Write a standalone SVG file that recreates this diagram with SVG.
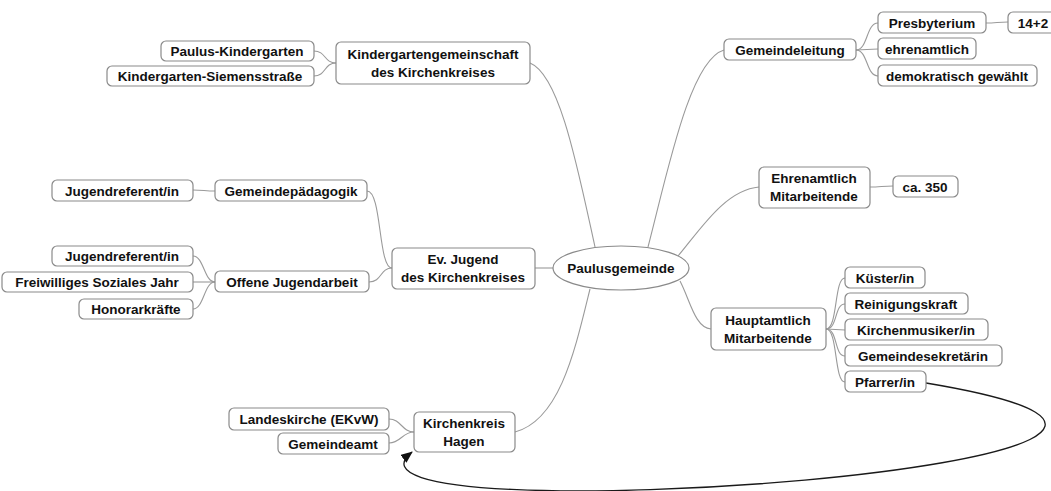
<svg xmlns="http://www.w3.org/2000/svg" width="1051" height="491" viewBox="0 0 1051 491">
<style>
.box{fill:#fff;stroke:#8a8a8a;stroke-width:1.2}
.t{font-family:"Liberation Sans",Arial,sans-serif;font-weight:bold;font-size:13.5px;fill:#111;text-anchor:middle}
.c{fill:none;stroke:#9a9a9a;stroke-width:1.1}
.link{fill:none;stroke:#1a1a1a;stroke-width:1.3}
</style>
<defs>
<marker id="ah" viewBox="0 0 12 10" refX="11" refY="5" markerWidth="12" markerHeight="10" markerUnits="userSpaceOnUse" orient="auto">
<path d="M0,0 L12,5 L0,10 Z" fill="#111"/>
</marker>
</defs>
<rect width="1051" height="491" fill="#fff"/>
<g id="connectors">
<path class="c" d="M595,247 C578,170 560,75 530,63"/>
<path class="c" d="M648,247 C668,170 690,60 724,50"/>
<path class="c" d="M678,256 C700,230 725,190 759,187"/>
<path class="c" d="M680,281 C690,300 695,328 711,329"/>
<path class="c" d="M554,268 L535,268"/>
<path class="c" d="M590,289 C575,350 560,420 515,432"/>
<path class="c" d="M314,51 C326,51 324,63 336,63"/>
<path class="c" d="M314,76 C326,76 324,63 336,63"/>
<path class="c" d="M856,50 C868,50 866,23 878,23"/>
<path class="c" d="M856,50 L878,49"/>
<path class="c" d="M856,50 C868,50 866,76 878,76"/>
<path class="c" d="M986,23 C996,23 998,22 1008,22"/>
<path class="c" d="M870,187 C880,187 883,186 893,186"/>
<path class="c" d="M826,329 C838,329 834,278 845,278"/>
<path class="c" d="M826,329 C838,329 834,304 845,304"/>
<path class="c" d="M826,329 L845,330"/>
<path class="c" d="M826,329 C838,329 834,356 845,356"/>
<path class="c" d="M826,329 C838,329 834,382 845,382"/>
<path class="c" d="M392,268 C378,268 382,191 367,191"/>
<path class="c" d="M392,268 C380,268 382,282 369,282"/>
<path class="c" d="M215,191 C205,191 203,190 193,190"/>
<path class="c" d="M215,282 C204,282 204,256 193,256"/>
<path class="c" d="M215,282 L193,282"/>
<path class="c" d="M215,282 C204,282 204,309 193,309"/>
<path class="c" d="M414,432 C402,432 401,419 389,419"/>
<path class="c" d="M414,432 C402,432 401,443 389,443"/>
<path class="link" d="M926,383 C1400,462 300,540 412,452" marker-end="url(#ah)"/>
</g>
<g id="root">
<ellipse cx="621" cy="268" rx="68" ry="22" fill="#fff" stroke="#8a8a8a" stroke-width="1.2"/>
<text class="t" x="621" y="273">Paulusgemeinde</text>
</g>
<g id="kg">
<rect class="box" x="336" y="42" width="194" height="42" rx="5"/>
<text class="t" x="433" y="59">Kindergartengemeinschaft</text>
<text class="t" x="433" y="77">des Kirchenkreises</text>
</g>
<g id="kg1">
<rect class="box" x="161" y="41" width="153" height="20" rx="5"/>
<text class="t" x="237" y="56">Paulus-Kindergarten</text>
</g>
<g id="kg2">
<rect class="box" x="107" y="66" width="207" height="20" rx="5"/>
<text class="t" x="210" y="81">Kindergarten-Siemensstraße</text>
</g>
<g id="gl">
<rect class="box" x="724" y="39" width="132" height="21" rx="5"/>
<text class="t" x="790" y="55">Gemeindeleitung</text>
</g>
<g id="presb">
<rect class="box" x="878" y="12" width="108" height="21" rx="5"/>
<text class="t" x="932" y="28">Presbyterium</text>
</g>
<g id="n142">
<rect class="box" x="1008" y="12" width="60" height="21" rx="5"/>
<text class="t" x="1033" y="28">14+2</text>
</g>
<g id="ehren">
<rect class="box" x="878" y="38" width="98" height="21" rx="5"/>
<text class="t" x="927" y="54">ehrenamtlich</text>
</g>
<g id="demo">
<rect class="box" x="878" y="65" width="159" height="21" rx="5"/>
<text class="t" x="957" y="81">demokratisch gewählt</text>
</g>
<g id="em">
<rect class="box" x="759" y="167" width="111" height="41" rx="5"/>
<text class="t" x="814" y="183">Ehrenamtlich</text>
<text class="t" x="814" y="201">Mitarbeitende</text>
</g>
<g id="ca350">
<rect class="box" x="893" y="176" width="65" height="21" rx="5"/>
<text class="t" x="925" y="192">ca. 350</text>
</g>
<g id="hm">
<rect class="box" x="711" y="308" width="115" height="42" rx="5"/>
<text class="t" x="768" y="325">Hauptamtlich</text>
<text class="t" x="768" y="343">Mitarbeitende</text>
</g>
<g id="kuester">
<rect class="box" x="845" y="267" width="80" height="21" rx="5"/>
<text class="t" x="885" y="283">Küster/in</text>
</g>
<g id="rein">
<rect class="box" x="845" y="293" width="123" height="21" rx="5"/>
<text class="t" x="906" y="309">Reinigungskraft</text>
</g>
<g id="kmus">
<rect class="box" x="845" y="319" width="143" height="21" rx="5"/>
<text class="t" x="916" y="335">Kirchenmusiker/in</text>
</g>
<g id="sekr">
<rect class="box" x="845" y="345" width="157" height="21" rx="5"/>
<text class="t" x="923" y="361">Gemeindesekretärin</text>
</g>
<g id="pfarrer">
<rect class="box" x="845" y="371" width="81" height="21" rx="5"/>
<text class="t" x="885" y="387">Pfarrer/in</text>
</g>
<g id="evj">
<rect class="box" x="392" y="248" width="143" height="41" rx="5"/>
<text class="t" x="463" y="264">Ev. Jugend</text>
<text class="t" x="463" y="282">des Kirchenkreises</text>
</g>
<g id="gpaed">
<rect class="box" x="215" y="180" width="152" height="21" rx="5"/>
<text class="t" x="291" y="196">Gemeindepädagogik</text>
</g>
<g id="jref1">
<rect class="box" x="52" y="180" width="141" height="21" rx="5"/>
<text class="t" x="122" y="196">Jugendreferent/in</text>
</g>
<g id="offen">
<rect class="box" x="215" y="271" width="154" height="21" rx="5"/>
<text class="t" x="292" y="287">Offene Jugendarbeit</text>
</g>
<g id="jref2">
<rect class="box" x="52" y="246" width="141" height="20" rx="5"/>
<text class="t" x="122" y="261">Jugendreferent/in</text>
</g>
<g id="fsj">
<rect class="box" x="2" y="272" width="191" height="20" rx="5"/>
<text class="t" x="97" y="287">Freiwilliges Soziales Jahr</text>
</g>
<g id="hon">
<rect class="box" x="79" y="299" width="114" height="20" rx="5"/>
<text class="t" x="136" y="314">Honorarkräfte</text>
</g>
<g id="kkh">
<rect class="box" x="414" y="412" width="101" height="40" rx="5"/>
<text class="t" x="464" y="428">Kirchenkreis</text>
<text class="t" x="464" y="446">Hagen</text>
</g>
<g id="lk">
<rect class="box" x="229" y="408" width="160" height="22" rx="5"/>
<text class="t" x="309" y="424">Landeskirche (EKvW)</text>
</g>
<g id="ga">
<rect class="box" x="278" y="433" width="111" height="21" rx="5"/>
<text class="t" x="333" y="449">Gemeindeamt</text>
</g>
</svg>
